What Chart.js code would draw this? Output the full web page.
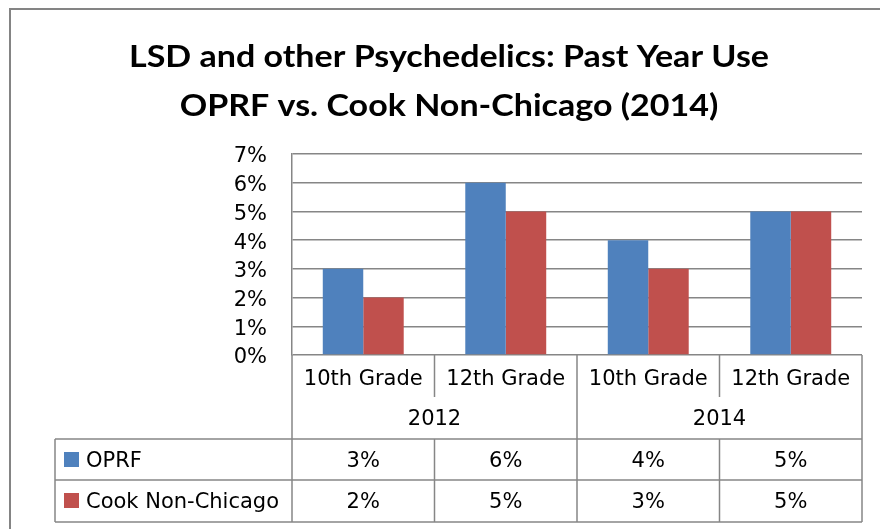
<!DOCTYPE html>
<html lang="en">
<head>
  <meta charset="UTF-8" />
  <title>LSD and other Psychedelics: Past Year Use</title>
  <style>
    html, body { margin: 0; padding: 0; background: #fff; }
    #wrap { width: 880px; height: 529px; }
  </style>
  <script src="https://cdn.jsdelivr.net/npm/chart.js"></script>
</head>
<body>
  <div id="wrap"><canvas id="chart" width="880" height="529"></canvas></div>

  <script>
    // data
    const grades = ['10th Grade', '12th Grade', '10th Grade', '12th Grade'];
    const years = ['2012', '2014'];
    const oprf = [3, 6, 4, 5];
    const cook = [2, 5, 3, 5];
    const seriesNames = ['OPRF', 'Cook Non-Chicago'];
    const yMax = 7;
    const titleLines = ['LSD and other Psychedelics: Past Year Use', 'OPRF vs. Cook Non-Chicago (2014)'];

    const BLUE = '#4F81BD';
    const RED = '#C0504D';
    const LINE = '#868686';
    const BODY_FONT = '21px "DejaVu Sans"';

    function hline(ctx, x1, x2, y) {
      ctx.beginPath(); ctx.moveTo(x1, y); ctx.lineTo(x2, y); ctx.stroke();
    }
    function vline(ctx, x, y1, y2) {
      ctx.beginPath(); ctx.moveTo(x, y1); ctx.lineTo(x, y2); ctx.stroke();
    }

    // outer frame + title
    const framePlugin = {
      id: 'frame',
      beforeDraw(chart) {
        const ctx = chart.ctx;
        ctx.save();
        ctx.fillStyle = '#fff';
        ctx.fillRect(0, 0, chart.width, chart.height);
        ctx.strokeStyle = '#848484';
        ctx.lineWidth = 2;
        ctx.strokeRect(10, 9, chart.width + 20, chart.height + 20);

        ctx.fillStyle = '#000';
        ctx.font = 'bold 31px Lato';
        ctx.textAlign = 'center';
        ctx.textBaseline = 'alphabetic';
        const sx = 640 / ctx.measureText(titleLines[0]).width;
        const baselines = [67, 116];
        titleLines.forEach((t, i) => {
          ctx.save();
          ctx.translate(449, baselines[i]);
          ctx.scale(sx, 1);
          ctx.fillText(t, 0, 0);
          ctx.restore();
        });
        ctx.restore();
      }
    };

    // Excel style data table under the plot
    const tablePlugin = {
      id: 'dataTable',
      afterDraw(chart) {
        const ctx = chart.ctx;
        const x = chart.scales.x;
        const area = chart.chartArea;
        const n = grades.length;
        const cw = (area.right - area.left) / n;
        const edges = [];
        for (let i = 0; i <= n; i++) edges.push(area.left + cw * i);
        const centers = grades.map((g, i) => x.getPixelForValue(i));

        const top = area.bottom;
        const gradeBottom = 397;
        const tableTop = 439;
        const rowMid = 480;
        const tableBottom = 522;
        const tableLeft = 55;

        ctx.save();
        ctx.strokeStyle = LINE;
        ctx.lineWidth = 1.5;

        // category axis structure
        vline(ctx, edges[0], top, tableBottom);
        vline(ctx, edges[2], top, tableBottom);
        vline(ctx, edges[4], top, tableBottom);
        vline(ctx, edges[1], top, gradeBottom);
        vline(ctx, edges[3], top, gradeBottom);
        vline(ctx, edges[1], tableTop, tableBottom);
        vline(ctx, edges[3], tableTop, tableBottom);

        // table rows
        hline(ctx, tableLeft, edges[4], tableTop);
        hline(ctx, tableLeft, edges[4], rowMid);
        hline(ctx, tableLeft, edges[4], tableBottom);
        vline(ctx, tableLeft, tableTop, tableBottom);

        ctx.fillStyle = '#000';
        ctx.font = BODY_FONT;
        ctx.textAlign = 'center';
        ctx.textBaseline = 'alphabetic';

        grades.forEach((g, i) => ctx.fillText(g, centers[i], 385));
        years.forEach((y, i) => ctx.fillText(y, (edges[i * 2] + edges[i * 2 + 2]) / 2, 425));

        const rows = [oprf, cook];
        const rowBase = [467, 508];
        rows.forEach((vals, r) => {
          vals.forEach((v, i) => ctx.fillText(v + '%', centers[i], rowBase[r]));
        });

        // legend keys
        ctx.textAlign = 'left';
        [BLUE, RED].forEach((c, r) => {
          ctx.fillStyle = c;
          ctx.fillRect(64, rowBase[r] - 15, 15, 15);
          ctx.fillStyle = '#000';
          ctx.fillText(seriesNames[r], 86, rowBase[r]);
        });
        ctx.restore();
      }
    };

    new Chart(document.getElementById('chart'), {
      type: 'bar',
      data: {
        labels: grades,
        datasets: [
          { label: seriesNames[0], data: oprf, backgroundColor: BLUE, borderWidth: 0 },
          { label: seriesNames[1], data: cook, backgroundColor: RED, borderWidth: 0 }
        ]
      },
      options: {
        responsive: false,
        animation: false,
        devicePixelRatio: 1,
        layout: { padding: { top: 154, bottom: 174, right: 18, left: 0 } },
        datasets: {
          bar: { categoryPercentage: 0.568, barPercentage: 1 }
        },
        plugins: {
          legend: { display: false },
          title: { display: false },
          tooltip: { enabled: false }
        },
        scales: {
          x: { display: false },
          y: {
            min: 0,
            max: yMax,
            afterFit(scale) { scale.width = 292; },
            grid: { color: LINE, lineWidth: 1.5, drawTicks: false },
            border: { display: true, color: LINE, width: 1.5 },
            ticks: {
              stepSize: 1,
              padding: 25,
              labelOffset: 3,
              color: '#000',
              font: { family: 'DejaVu Sans', size: 21 },
              callback: v => v + '%'
            }
          }
        }
      },
      plugins: [framePlugin, tablePlugin]
    });
  </script>
</body>
</html>
